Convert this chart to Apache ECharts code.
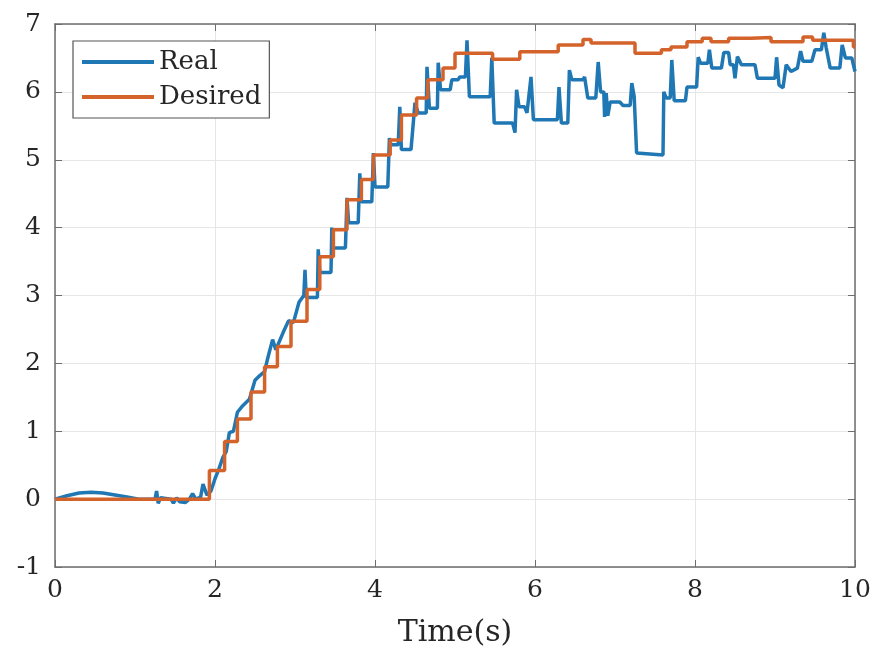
<!DOCTYPE html>
<html>
<head>
<meta charset="utf-8">
<script src="https://cdn.jsdelivr.net/npm/echarts@6/dist/echarts.min.js"></script>
<style>
  html, body { margin: 0; padding: 0; background: #ffffff; }
  #chart { width: 877px; height: 653px; }
</style>
</head>
<body>
<div id="chart"></div>
<script>
// Tick labels
const xTicks = [0, 2, 4, 6, 8, 10];
const yTicks = [-1, 0, 1, 2, 3, 4, 5, 6, 7];

// Measured response (time in s, value)
const realTime = [
  0, 0.15, 0.3, 0.45, 0.6, 0.75, 0.9, 1.05, 1.25, 1.27, 1.29, 1.32, 1.45, 1.48, 1.52, 1.56, 1.63, 1.68, 1.72, 1.76,
  1.82, 1.85, 1.9, 1.95, 2.0, 2.05, 2.1, 2.14, 2.18, 2.23, 2.28, 2.35, 2.43, 2.5, 2.56, 2.62, 2.66, 2.72, 2.76, 2.85,
  2.92, 2.98, 3.05, 3.11, 3.125, 3.14, 3.28, 3.29, 3.31, 3.45, 3.46, 3.48, 3.63, 3.65, 3.67, 3.79, 3.81, 3.83, 3.96, 3.98,
  4.0, 4.16, 4.18, 4.2, 4.29, 4.31, 4.33, 4.45, 4.5, 4.54, 4.64, 4.65, 4.68, 4.78, 4.79, 4.82, 4.94, 4.96, 5.04, 5.06,
  5.13, 5.15, 5.18, 5.44, 5.46, 5.49, 5.72, 5.75, 5.77, 5.8, 5.87, 5.9, 5.95, 5.98, 6.28, 6.3, 6.33, 6.41, 6.43, 6.46,
  6.6, 6.62, 6.66, 6.76, 6.79, 6.82, 6.86, 6.87, 6.89, 6.91, 6.94, 7.06, 7.1, 7.19, 7.21, 7.24, 7.27, 7.6, 7.61, 7.64,
  7.69, 7.71, 7.74, 7.88, 7.9, 8.02, 8.04, 8.07, 8.16, 8.18, 8.21, 8.33, 8.36, 8.42, 8.44, 8.48, 8.5, 8.53, 8.58, 8.75,
  8.78, 9.0, 9.02, 9.05, 9.1, 9.14, 9.2, 9.28, 9.32, 9.35, 9.46, 9.5, 9.58, 9.61, 9.64, 9.69, 9.81, 9.84, 9.88, 9.96,
  10.0
];
const realValue = [
  0, 0.05, 0.09, 0.1, 0.09, 0.06, 0.03, 0.0, 0.0, 0.12, -0.06, 0.02, 0.0, -0.06, 0.02, -0.04, -0.05, 0.0, 0.08, 0.0,
  0.03, 0.22, 0.06, 0.12, 0.3, 0.45, 0.62, 0.7, 0.98, 1.0, 1.28, 1.38, 1.47, 1.75, 1.82, 1.88, 2.08, 2.35, 2.2, 2.45,
  2.63, 2.6, 2.9, 3.0, 3.38, 2.97, 2.97, 3.68, 3.34, 3.34, 4.0, 3.7, 3.7, 4.44, 4.07, 4.07, 4.8, 4.38, 4.38, 5.1,
  4.6, 4.6, 5.32, 5.22, 5.22, 5.78, 5.15, 5.15, 5.84, 5.69, 5.69, 6.37, 5.76, 5.76, 6.43, 6.03, 6.03, 6.18, 6.18, 6.22,
  6.22, 6.76, 5.93, 5.93, 6.5, 5.54, 5.54, 5.4, 6.03, 5.78, 5.78, 5.69, 6.22, 5.59, 5.59, 6.07, 5.54, 5.54, 6.32, 6.18,
  6.18, 6.22, 5.91, 5.91, 6.44, 6.0, 6.0, 5.63, 5.98, 5.65, 5.85, 5.85, 5.8, 5.8, 6.13, 5.93, 5.1, 5.07, 6.0, 5.91,
  5.91, 6.47, 5.87, 5.87, 6.07, 6.07, 6.51, 6.42, 6.42, 6.62, 6.35, 6.35, 6.58, 6.58, 6.4, 6.4, 6.2, 6.52, 6.4, 6.4,
  6.2, 6.2, 6.51, 6.1, 6.06, 6.4, 6.3, 6.35, 6.6, 6.45, 6.45, 6.62, 6.62, 6.87, 6.65, 6.35, 6.35, 6.69, 6.5, 6.5,
  6.3
];

// Reference trajectory, held constant between samples
const desiredTime = [
  0, 1.93, 2.12, 2.28, 2.45, 2.62, 2.78, 2.95, 3.15, 3.31, 3.48, 3.65, 3.83, 3.98, 4.19, 4.33, 4.52, 4.66, 4.85, 5.0,
  5.47, 5.81, 6.29, 6.6, 6.7, 7.25, 7.58, 7.7, 7.9, 8.09, 8.2, 8.42, 8.7, 8.95, 9.35, 9.47, 9.98, 10.0
];
const desiredValue = [
  0, 0.42, 0.85, 1.18, 1.58, 1.95, 2.25, 2.62, 3.09, 3.57, 3.97, 4.41, 4.71, 5.07, 5.29, 5.66, 5.91, 6.18, 6.35, 6.57,
  6.48, 6.59, 6.69, 6.77, 6.72, 6.57, 6.62, 6.66, 6.74, 6.79, 6.74, 6.79, 6.8, 6.74, 6.81, 6.76, 6.66, 6.66
];

const FONT = 'DejaVu Serif';
const realData = realTime.map((t, i) => [t, realValue[i]]);
const desiredData = desiredTime.map((t, i) => [t, desiredValue[i]]);

const chart = echarts.init(document.getElementById('chart'), null, { renderer: 'canvas' });

const frameColor = '#6e6e6e';
const gridColor = '#e6e6e6';
const labelColor = '#262626';
const realColor = '#1f77b4';
const desiredColor = '#d4622b';

const xBase = {
  type: 'value', min: xTicks[0], max: xTicks[xTicks.length - 1], interval: 2,
  axisLine: { show: true, onZero: false, lineStyle: { color: frameColor, width: 1.5 } },
  axisTick: { show: true, inside: true, length: 7, lineStyle: { color: frameColor } }
};
const yBase = {
  type: 'value', min: yTicks[0], max: yTicks[yTicks.length - 1], interval: 1,
  axisLine: { show: true, onZero: false, lineStyle: { color: frameColor, width: 1.5 } },
  axisTick: { show: true, inside: true, length: 7, lineStyle: { color: frameColor } }
};

chart.setOption({
  backgroundColor: '#ffffff',
  animation: false,
  grid: { left: 55, right: 22, top: 24, bottom: 85 },
  legend: {
    left: 73, top: 41,
    orient: 'vertical',
    backgroundColor: '#ffffff',
    borderColor: '#555555', borderWidth: 1.2,
    padding: [6, 8, 6, 9],
    itemGap: 5,
    icon: 'rect',
    itemWidth: 72, itemHeight: 4,
    textStyle: { fontFamily: FONT, fontSize: 26, color: labelColor, lineHeight: 30 },
    data: ['Real', 'Desired']
  },
  xAxis: [
    Object.assign({}, xBase, {
      position: 'bottom',
      name: 'Time(s)', nameLocation: 'middle', nameGap: 51,
      nameTextStyle: { fontFamily: FONT, fontSize: 30, color: labelColor },
      axisLabel: { margin: 11, fontFamily: FONT, fontSize: 25, color: labelColor },
      splitLine: { show: true, lineStyle: { color: gridColor, width: 1 } }
    }),
    Object.assign({}, xBase, {
      position: 'top', axisLabel: { show: false }, splitLine: { show: false }
    })
  ],
  yAxis: [
    Object.assign({}, yBase, {
      position: 'left',
      axisLabel: { margin: 14, fontFamily: FONT, fontSize: 25, color: labelColor },
      splitLine: { show: true, lineStyle: { color: gridColor, width: 1 } }
    }),
    Object.assign({}, yBase, {
      position: 'right', axisLabel: { show: false }, splitLine: { show: false }
    })
  ],
  series: [
    {
      name: 'Real', type: 'line', data: realData,
      xAxisIndex: 0, yAxisIndex: 0,
      symbol: 'none', smooth: false,
      lineStyle: { color: realColor, width: 3.5 },
      itemStyle: { color: realColor },
      z: 2
    },
    {
      name: 'Desired', type: 'line', data: desiredData,
      xAxisIndex: 0, yAxisIndex: 0,
      symbol: 'none', step: 'end',
      lineStyle: { color: desiredColor, width: 3.5 },
      itemStyle: { color: desiredColor },
      z: 3
    }
  ]
});
</script>
</body>
</html>
